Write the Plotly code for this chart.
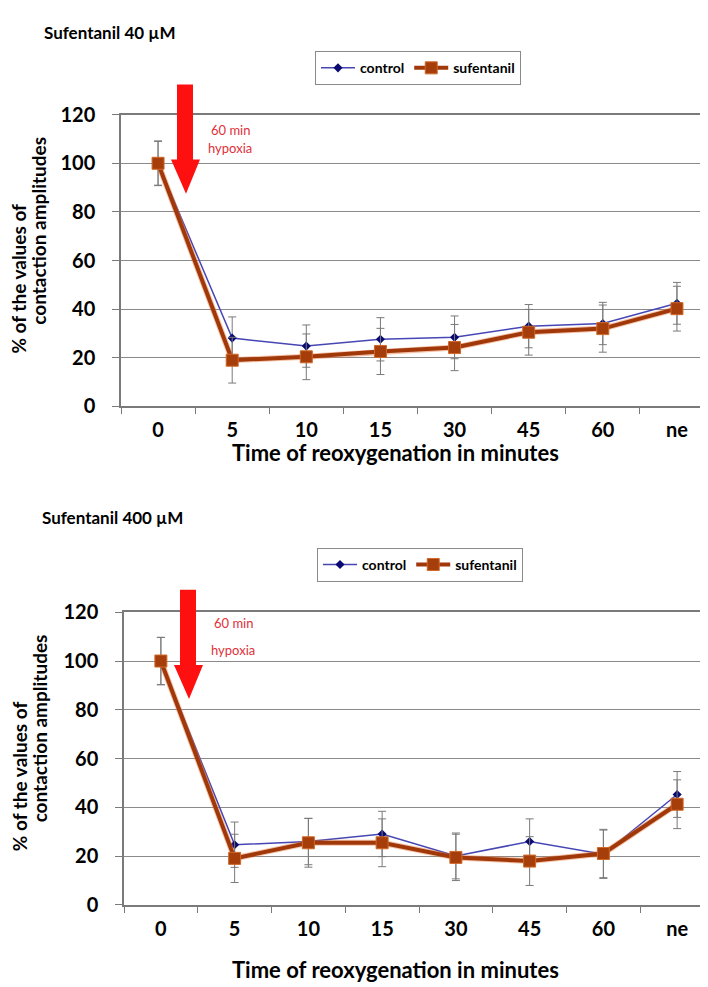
import plotly.graph_objects as go

W, H = 708, 987

categories = ["0", "5", "10", "15", "30", "45", "60", "ne"]

top_control = [100, 28.1, 24.8, 27.6, 28.4, 33.0, 34.1, 42.4]
top_control_err = [9.0, 8.7, 8.7, 8.9, 8.8, 8.9, 8.7, 8.6]
top_suf = [100, 19.0, 20.4, 22.6, 24.2, 30.5, 32.0, 40.2]
top_suf_err = [9.2, 9.4, 9.4, 9.5, 9.5, 9.4, 9.7, 9.2]

bot_control = [100, 24.7, 26.0, 29.1, 20.1, 26.0, 20.8, 45.3]
bot_control_err = [9.7, 9.3, 9.5, 9.3, 9.4, 9.3, 9.9, 9.4]
bot_suf = [100, 19.1, 25.5, 25.5, 19.5, 18.0, 21.1, 41.3]
bot_suf_err = [9.7, 9.9, 10.0, 9.8, 9.5, 10.0, 9.9, 10.0]

titles = ["Sufentanil 40 µM", "Sufentanil 400 µM"]
ytitle_lines = ["% of the values of", "contaction amplitudes"]
xtitle = "Time of reoxygenation in minutes"
arrow_text = ["60 min", "hypoxia"]

FONT = "Lato, 'Open Sans', sans-serif"
CTRL_LINE = "#4646b4"
CTRL_MARK = "#0a0a70"
SUF = "#a0380a"
GLOW = "rgba(230,120,60,0.45)"
ERR = "#7a7a7a"
GRID = "#8a8a8a"
RED = "#ff1010"
TXT_RED = "#e0303a"


def px_x(x):
    return x / W


def px_y(y):
    return 1 - y / H


fig = go.Figure()

panels = [
    dict(ctrl=top_control, ce=top_control_err, suf=top_suf, se=top_suf_err,
         xa="x", ya="y", legend="legend"),
    dict(ctrl=bot_control, ce=bot_control_err, suf=bot_suf, se=bot_suf_err,
         xa="x2", ya="y2", legend="legend2"),
]

for p in panels:
    fig.add_trace(go.Scatter(
        x=categories, y=p["ctrl"], name="control", mode="lines+markers",
        line=dict(color=CTRL_LINE, width=1.5),
        marker=dict(symbol="diamond", size=7, color=CTRL_MARK),
        error_y=dict(type="data", array=p["ce"], visible=True, color=ERR,
                     thickness=1, width=4),
        xaxis=p["xa"], yaxis=p["ya"], legend=p["legend"],
    ))
    fig.add_trace(go.Scatter(
        x=categories, y=p["suf"], mode="lines", showlegend=False,
        hoverinfo="skip", line=dict(color=GLOW, width=6),
        xaxis=p["xa"], yaxis=p["ya"],
    ))
    fig.add_trace(go.Scatter(
        x=categories, y=p["suf"], name="sufentanil", mode="lines+markers",
        line=dict(color=SUF, width=4),
        marker=dict(symbol="square", size=12, color="#a63e0c",
                    line=dict(color="#d06828", width=1)),
        error_y=dict(type="data", array=p["se"], visible=True, color=ERR,
                     thickness=1, width=4),
        xaxis=p["xa"], yaxis=p["ya"], legend=p["legend"],
    ))

tickfont = dict(family=FONT, size=20, color="black", weight="bold")

xcommon = dict(type="category", categoryorder="array", categoryarray=categories,
               range=[-0.5, 7.5], showgrid=False, showline=True, linecolor="#7a7a7a",
               linewidth=1.5, mirror=True, ticks="outside", tickson="boundaries",
               ticklen=6, tickcolor="#7a7a7a", tickfont=tickfont,
               ticklabelstandoff=5, fixedrange=True)
ycommon = dict(range=[0, 120], dtick=20, showgrid=True, gridcolor=GRID, gridwidth=1.2,
               showline=True, linecolor="#7a7a7a", linewidth=1.5, mirror=True,
               ticks="outside", ticklen=7, tickcolor="#7a7a7a", tickfont=tickfont,
               ticklabelstandoff=13, zeroline=False, fixedrange=True)

legfont = dict(family=FONT, size=14, weight="bold", color="black")

fig.update_layout(
    width=W, height=H,
    margin=dict(l=0, r=0, t=0, b=0),
    paper_bgcolor="white", plot_bgcolor="white",
    font=dict(family=FONT, color="black"),
    xaxis=dict(xcommon, domain=[px_x(113), px_x(706)], anchor="y"),
    yaxis=dict(ycommon, domain=[px_y(395), px_y(96)], anchor="x"),
    xaxis2=dict(xcommon, domain=[px_x(116), px_x(706)], anchor="y2"),
    yaxis2=dict(ycommon, domain=[px_y(906), px_y(606)], anchor="x2"),
    legend=dict(orientation="h", x=px_x(410), y=px_y(31), xanchor="center",
                yanchor="top", bordercolor="#8a8a8a", borderwidth=1,
                bgcolor="white", font=legfont, itemwidth=34, tracegroupgap=0),
    legend2=dict(orientation="h", x=px_x(412), y=px_y(540), xanchor="center",
                 yanchor="top", bordercolor="#8a8a8a", borderwidth=1,
                 bgcolor="white", font=legfont, itemwidth=34, tracegroupgap=0),
    showlegend=True,
)

annotations = []
shapes = []

deco = [
    dict(title_y=12, title_x=34, dy=0, arrow_dx=0, text_x=222, t1=112, t2=130, xt=442),
    dict(title_y=509, title_x=32, dy=510, arrow_dx=3, text_x=225, t1=617, t2=645, xt=972),
]

for i, d in enumerate(deco):
    annotations.append(dict(text=titles[i], x=px_x(d["title_x"]), y=px_y(d["title_y"]),
                            xref="paper", yref="paper", xanchor="left", yanchor="middle",
                            showarrow=False,
                            font=dict(family=FONT, size=17, weight="bold", color="black")))
    annotations.append(dict(text=ytitle_lines[0], x=px_x(11), y=px_y(264 + d["dy"]),
                            xref="paper", yref="paper", xanchor="center", yanchor="middle",
                            textangle=-90, showarrow=False,
                            font=dict(family=FONT, size=19, weight="bold", color="black")))
    annotations.append(dict(text=ytitle_lines[1], x=px_x(31), y=px_y(215 + d["dy"]),
                            xref="paper", yref="paper", xanchor="center", yanchor="middle",
                            textangle=-90, showarrow=False,
                            font=dict(family=FONT, size=19, weight="bold", color="black")))
    annotations.append(dict(text=xtitle, x=px_x(388), y=px_y(d["xt"]),
                            xref="paper", yref="paper", xanchor="center", yanchor="middle",
                            showarrow=False,
                            font=dict(family=FONT, size=22, weight="bold", color="black")))
    annotations.append(dict(text=arrow_text[0], x=px_x(d["text_x"]), y=px_y(d["t1"]),
                            xref="paper", yref="paper", xanchor="center", yanchor="middle",
                            showarrow=False, font=dict(family=FONT, size=13, color=TXT_RED)))
    annotations.append(dict(text=arrow_text[1], x=px_x(d["text_x"]), y=px_y(d["t2"]),
                            xref="paper", yref="paper", xanchor="center", yanchor="middle",
                            showarrow=False, font=dict(family=FONT, size=13, color=TXT_RED)))
    ax = d["arrow_dx"]
    off = d["dy"] + (8 if i else 0)
    top, hs, tip = 65 + off, 142 + off, 177 + off
    pts = [(169 + ax, top), (185 + ax, top), (185 + ax, hs), (192 + ax, hs),
           (178 + ax, tip), (163 + ax, hs), (169 + ax, hs)]
    path = "M " + " L ".join(f"{px_x(x):.5f},{px_y(y):.5f}" for x, y in pts) + " Z"
    shapes.append(dict(type="path", path=path, xref="paper", yref="paper",
                       fillcolor=RED, line=dict(color=RED, width=0)))

fig.update_layout(annotations=annotations, shapes=shapes)

fig.write_html("out.html")
